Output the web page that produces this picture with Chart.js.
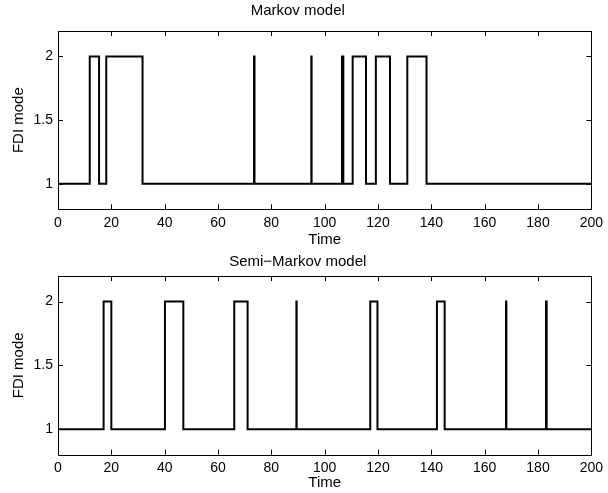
<!DOCTYPE html>
<html>
<head>
<meta charset="utf-8">
<script src="https://cdn.jsdelivr.net/npm/chart.js@4/dist/chart.umd.min.js"></script>
<style>
  html, body { margin: 0; padding: 0; background: #ffffff; }
  #wrap { position: relative; width: 608px; height: 493px; background: #ffffff; }
  canvas { position: absolute; left: 0; }
</style>
</head>
<body>
<div id="wrap">
  <canvas id="c1" width="608" height="250" style="top:0px"></canvas>
  <canvas id="c2" width="608" height="243" style="top:250px"></canvas>
</div>
<script>
// ---- Data ----
const markovTime = [0, 11.9, 15.4, 18.1, 31.7, 73.5, 73.7, 95.0, 95.1, 106.5, 107.0, 110.5, 115.5, 119.2, 124.5, 131.0, 138.2, 200];
const markovMode = [1, 2, 1, 2, 1, 2, 1, 2, 1, 2, 1, 2, 1, 2, 1, 2, 1, 1];
const semiTime   = [0, 17.1, 20.0, 40.1, 47.0, 66.1, 71.1, 89.4, 89.5, 117.1, 119.8, 142.1, 145.0, 168.0, 168.15, 183.0, 183.25, 200];
const semiMode   = [1, 2, 1, 2, 1, 2, 1, 2, 1, 2, 1, 2, 1, 2, 1, 2, 1, 1];
const xTickValues = [0, 20, 40, 60, 80, 100, 120, 140, 160, 180, 200];
const yTickValues = [1, 1.5, 2];
const titles = ['Markov model', 'Semi\u2212Markov model'];
const xLabel = 'Time';
const yLabel = 'FDI mode';

const FONT = "'Liberation Sans', Arial, Helvetica, sans-serif";

// Box + inward ticks (MATLAB style), positioned through the chart scales
const boxPlugin = {
  id: 'matlabBox',
  afterDatasetsDraw(chart) {
    const {ctx, chartArea: a, scales: {x, y}} = chart;
    ctx.save();
    ctx.strokeStyle = '#000';
    ctx.lineWidth = 1;
    ctx.beginPath();
    ctx.rect(Math.round(a.left) + 0.5, Math.round(a.top) + 0.5,
             Math.round(a.right - a.left), Math.round(a.bottom - a.top));
    ctx.stroke();
    const len = 5;
    ctx.beginPath();
    xTickValues.forEach(v => {
      const px = Math.round(x.getPixelForValue(v)) + 0.5;
      ctx.moveTo(px, a.bottom); ctx.lineTo(px, a.bottom - len);
      ctx.moveTo(px, a.top); ctx.lineTo(px, a.top + len);
    });
    yTickValues.forEach(v => {
      const py = Math.round(y.getPixelForValue(v)) + 0.5;
      ctx.moveTo(a.left, py); ctx.lineTo(a.left + len, py);
      ctx.moveTo(a.right, py); ctx.lineTo(a.right - len, py);
    });
    ctx.stroke();
    ctx.restore();
  }
};

function makeChart(id, times, modes, title, titlePadTop, titleBlock, xHeight, xTitlePadBottom) {
  const pts = times.map((t, i) => ({x: t, y: modes[i]}));
  return new Chart(document.getElementById(id), {
    type: 'line',
    data: { datasets: [{
      data: pts,
      stepped: true,
      borderColor: '#000',
      borderWidth: 2,
      pointRadius: 0,
      fill: false,
      borderJoinStyle: 'miter',
      borderCapStyle: 'butt'
    }]},
    options: {
      responsive: false,
      animation: false,
      devicePixelRatio: 1,
      layout: { padding: { left: 0, right: 12.5, top: 0, bottom: 0 } },
      plugins: {
        legend: { display: false },
        tooltip: { enabled: false },
        title: {
          display: true,
          text: title,
          color: '#000',
          font: { family: FONT, size: 15, weight: 'normal', lineHeight: 1.2 },
          padding: { top: titlePadTop, bottom: titleBlock - titlePadTop - 18 }
        }
      },
      scales: {
        x: {
          type: 'linear',
          min: 0, max: 200,
          afterBuildTicks: s => { s.ticks = xTickValues.map(v => ({value: v})); },
          afterFit: s => { s.height = xHeight; },
          grid: { display: false, drawTicks: false },
          border: { display: false },
          ticks: { color: '#000', font: { family: FONT, size: 14 }, padding: 5, maxRotation: 0, autoSkip: false },
          title: { display: true, text: xLabel, color: '#000', font: { family: FONT, size: 15, lineHeight: 1.2 }, padding: { top: 0, bottom: xTitlePadBottom } }
        },
        y: {
          type: 'linear',
          min: 0.8, max: 2.2,
          afterBuildTicks: s => { s.ticks = yTickValues.map(v => ({value: v})); },
          afterFit: s => { s.width = 58; },
          grid: { display: false, drawTicks: false },
          border: { display: false },
          ticks: { color: '#000', font: { family: FONT, size: 14 }, padding: 5,
                   callback: v => String(v) },
          title: { display: true, text: yLabel, color: '#000', font: { family: FONT, size: 15, lineHeight: 1.2 }, padding: { top: 10, bottom: 0 } }
        }
      }
    },
    plugins: [boxPlugin]
  });
}

makeChart('c1', markovTime, markovMode, titles[0], 2, 31, 40.7, 1);
makeChart('c2', semiTime, semiMode, titles[1], 3, 26, 38.3, 1);
</script>
</body>
</html>
